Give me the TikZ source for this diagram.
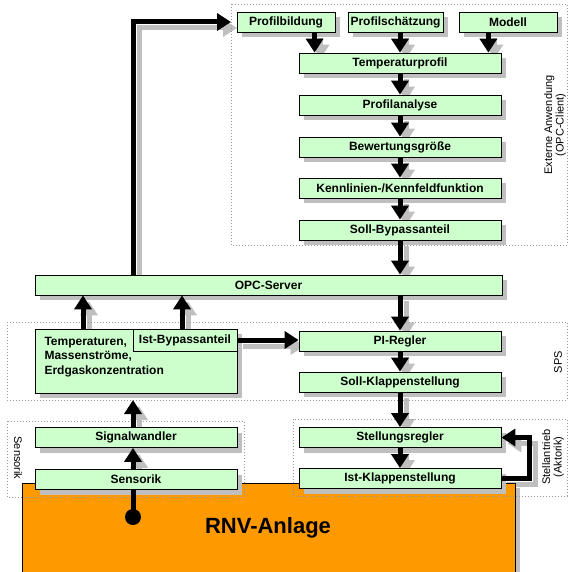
\documentclass[tikz,border=0pt]{standalone}
\usepackage{fontspec}
\setmainfont{Liberation Sans}
\usetikzlibrary{arrows.meta,shadows}

\definecolor{boxgreen}{RGB}{204,255,204}
\definecolor{plantorange}{RGB}{255,153,0}

\pgfdeclarelayer{shade}
\pgfsetlayers{shade,main}

\tikzset{
  plain/.style={draw, line width=0.8pt, fill=boxgreen, inner sep=0pt,
    minimum height=20pt, font=\bfseries\fontsize{12}{14}\selectfont},
  block/.style={plain, drop shadow={shadow xshift=5pt, shadow yshift=-5pt,
    fill=black!25, opacity=1}},
  flow/.style={line width=5pt, -{Triangle[width=17pt,length=14pt]}},
  flowshade/.style={flow, draw=black!25, transform canvas={shift={(6pt,-6pt)}}},
  area/.style={draw=black!40, line width=0.8pt, dash pattern=on 0.8pt off 2.2pt},
  side/.style={font=\fontsize{11}{11.5}\selectfont, align=center}
}

% black arrow with its grey shadow below the boxes
\newcommand{\flowline}[1]{%
  \begin{pgfonlayer}{shade}\draw[flowshade] #1;\end{pgfonlayer}
  \draw[flow] #1;}

\begin{document}
\begin{tikzpicture}[x=1pt, y=-1pt]
    \useasboundingbox (0,0) rectangle (569,572);

    % The plant
    \draw[line width=0.8pt, fill=plantorange, drop shadow={shadow xshift=5pt,
      shadow yshift=-5pt, fill=black!25, opacity=1}] (22,483) rectangle (515,600);
    \node[font=\bfseries\fontsize{22}{26}\selectfont] (rnv) at (268,528) {RNV-Anlage};

    % Dotted areas
    \draw[area] (231,4) coordinate (ext nw) rectangle (567,245);
    \draw[area] (7,322) rectangle (567,400) coordinate (sps se);
    \draw[area] (7,421) rectangle (244,497);
    \draw[area] (293,419) rectangle (567,496);

    % Area labels
    \node[side, rotate=90] (extlabel) at (555,125) {Externe Anwendung\\(OPC-Client)};
    \node[side, rotate=90] (spslabel) at (558,362) {SPS};
    \node[side, rotate=90] (stelllabel) at (553,457) {Stellantrieb\\(Aktorik)};
    \node[side, rotate=-90] (senslabel) at (18,458) {Sensorik};

    % Draw the boxes
    \node[block, minimum width=98pt] (pbild) at (286,22) {Profilbildung};
    \node[block, minimum width=95pt] (pschaetz) at (395.5,22) {Profilschätzung};
    \node[block, minimum width=98pt] (modell) at (508,22) {Modell};
    \node[block, minimum width=202pt] (tprofil) at (400,63) {Temperaturprofil};
    \node[block, minimum width=202pt] (panalyse) at (400,105) {Profilanalyse};
    \node[block, minimum width=202pt] (bewert) at (400,147) {Bewertungsgröße};
    \node[block, minimum width=202pt] (kennfkt) at (400,188) {Kennlinien-/Kennfeldfunktion};
    \node[block, minimum width=202pt] (sollbyp) at (400,230) {Soll-Bypassanteil};
    \node[block, minimum width=467pt] (opc) at (268.5,285) {OPC-Server};

    \node[block, minimum width=202pt, minimum height=64pt] (temp) at (136,361) {};
    \node[anchor=west, align=left, font=\bfseries\fontsize{12}{14.5}\selectfont]
      (temptext) at (41,357) {Temperaturen,\\Massenströme,\\Erdgaskonzentration};
    \node[plain, minimum width=104pt, minimum height=22pt] (istbyp) at (185,340) {Ist-Bypassanteil};

    \node[block, minimum width=202pt] (pi) at (400,341) {PI-Regler};
    \node[block, minimum width=202pt] (sollkl) at (400,382) {Soll-Klappenstellung};
    \node[block, minimum width=202pt] (stellr) at (400,437.5) {Stellungsregler};
    \node[block, minimum width=202pt] (istkl) at (400,478.5) {Ist-Klappenstellung};

    \node[block, minimum width=202pt] (sigw) at (136,437.5) {Signalwandler};
    \node[block, minimum width=202pt] (sensor) at (136,479.5) {Sensorik};

    % Measuring point
    \coordinate (probe) at (133,517);
    \draw[line width=5pt] (probe) -- (probe |- sensor.south);
    \fill (probe) circle (8pt);

    % Arrows of the external application
    \flowline{([xshift=16pt]tprofil.north west |- pbild.south) -- ([xshift=16pt]tprofil.north west)}
    \flowline{(pschaetz.south -| tprofil.north) -- (tprofil.north)}
    \flowline{([xshift=-13pt]tprofil.north east |- modell.south) -- ([xshift=-13pt]tprofil.north east)}
    \flowline{(tprofil) -- (panalyse)}
    \flowline{(panalyse) -- (bewert)}
    \flowline{(bewert) -- (kennfkt)}
    \flowline{(kennfkt) -- (sollbyp)}
    \flowline{(sollbyp.south) -- (sollbyp.south |- opc.north)}

    % Control loop
    \flowline{(opc.south -| pi.north) -- (pi.north)}
    \flowline{(pi) -- (sollkl)}
    \flowline{(sollkl) -- (stellr)}
    \flowline{(stellr) -- (istkl)}
    \flowline{(istkl.east) -- ++(28,0) |- (stellr.east)}
    \flowline{(istbyp.east) -- (istbyp.east -| pi.west)}

    % Measured values upwards
    \flowline{(probe |- sensor.north) -- (probe |- sigw.south)}
    \flowline{(probe |- sigw.north) -- (probe |- sps se)}
    \flowline{([xshift=-53pt]temp.north) -- ([xshift=-53pt]temp.north |- opc.south)}
    \flowline{([xshift=-3pt]istbyp.north) -- ([xshift=-3pt]istbyp.north |- opc.south)}
    \flowline{(probe |- opc.north) |- (ext nw |- pbild)}
  \end{tikzpicture}
\end{document}
